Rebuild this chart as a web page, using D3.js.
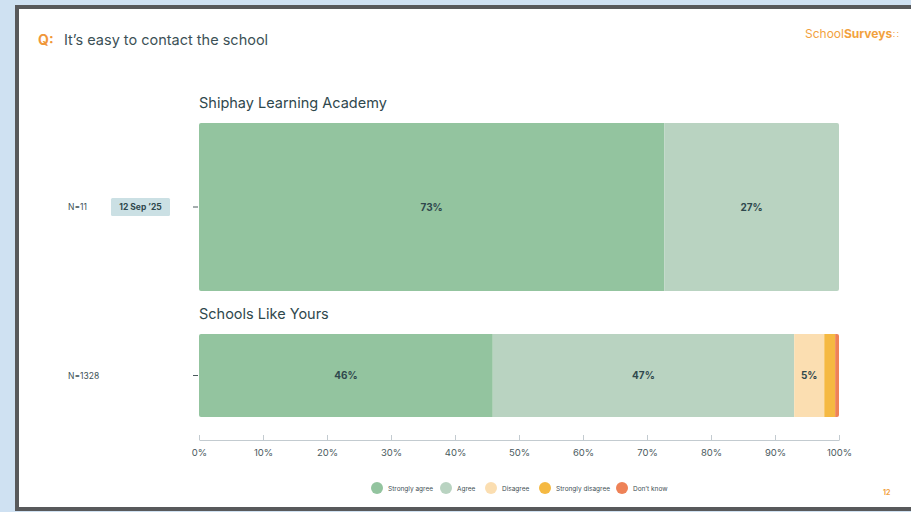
<!DOCTYPE html>
<html>
<head>
<meta charset="utf-8">
<script src="https://cdn.jsdelivr.net/npm/d3@7"></script>
<style>
  html, body { margin: 0; padding: 0; background: #cfe1f2; overflow: hidden; }
  #chart { width: 911px; height: 512px; }
  text { font-family: Inter, "Noto Sans", sans-serif; }
</style>
</head>
<body>
<div id="chart"></div>
<script>
'use strict';

// DATA
var question = 'It\u2019s easy to contact the school';
var categories = ['Strongly agree', 'Agree', 'Disagree', 'Strongly disagree', 'Don\u2019t know'];
var colors = ['#93c49f', '#b9d3c1', '#fbdeb1', '#f5b942', '#ee8257'];
var groups = ['Shiphay Learning Academy', 'Schools Like Yours'];
var counts = ['N=11', 'N=1328'];
var dates = ['12 Sep \u201925', null];
var shiphayValues = [72.7, 27.3, 0, 0, 0];
var schoolsLikeValues = [45.9, 47.1, 4.7, 1.7, 0.6];
var tickValues = [0, 10, 20, 30, 40, 50, 60, 70, 80, 90, 100];

var seriesValues = [shiphayValues, schoolsLikeValues];

var width = 911, height = 512;

var svg = d3.select('#chart').append('svg')
	.attr('width', width)
	.attr('height', height);

// FRAME
svg.append('rect')
	.attr('x', 17).attr('y', 7)
	.attr('width', 920).attr('height', 502)
	.attr('fill', '#fff')
	.attr('stroke', '#58595b')
	.attr('stroke-width', 4);

// HEADER
svg.append('text')
	.attr('x', 38).attr('y', 45)
	.attr('fill', '#f0973a')
	.style('font-size', '14px')
	.style('font-weight', 700)
	.text('Q:');

svg.append('text')
	.attr('x', 64).attr('y', 45)
	.attr('fill', '#3c5156')
	.style('font-size', '14.5px')
	.text(question);

var logo = svg.append('text')
	.attr('x', 805).attr('y', 38)
	.attr('fill', '#f2a23e')
	.style('font-size', '12px');
logo.append('tspan').text('School');
logo.append('tspan').style('font-weight', 700).text('Surveys');
logo.append('tspan').attr('dx', 1).style('font-size', '9px').text('\u2237');

svg.append('text')
	.attr('x', 883).attr('y', 495)
	.attr('fill', '#f2a23e')
	.style('font-size', '7px')
	.style('font-weight', 700)
	.text('12');

// SCALES
var x = d3.scaleLinear().domain([0, 100]).range([199, 839]);

// row layout (top, height) for each group
var rows = [{top: 123, h: 168}, {top: 334, h: 83}];

var stack = d3.stack().keys(d3.range(categories.length));
var stacked = stack(seriesValues);

groups.forEach(function(name, gi){
	var row = rows[gi];
	var g = svg.append('g').attr('class', 'row');

	g.append('text')
		.attr('x', 199).attr('y', row.top - 15)
		.attr('fill', '#2f484d')
		.style('font-size', '14.5px')
		.text(name);

	var clipId = 'clip' + gi;
	svg.append('clipPath').attr('id', clipId)
		.append('rect')
		.attr('x', x(0)).attr('y', row.top)
		.attr('width', x(100) - x(0)).attr('height', row.h)
		.attr('rx', 2);

	var segs = g.append('g').attr('clip-path', 'url(#' + clipId + ')');

	var segData = stacked.map(function(s, ci){ return {ci: ci, x0: s[gi][0], x1: s[gi][1]}; });

	segs.selectAll('rect')
		.data(segData)
		.enter().append('rect')
		.attr('x', function(d){ return x(d.x0); })
		.attr('y', row.top)
		.attr('width', function(d){ return Math.max(0, x(d.x1) - x(d.x0)); })
		.attr('height', row.h)
		.attr('fill', function(d){ return colors[d.ci]; });

	g.selectAll('text.val')
		.data(segData.filter(function(d){ return d.x1 - d.x0 >= 3; }))
		.enter().append('text')
		.attr('class', 'val')
		.attr('x', function(d){ return (x(d.x0) + x(d.x1)) / 2; })
		.attr('y', row.top + row.h / 2 + 3.5)
		.attr('text-anchor', 'middle')
		.attr('fill', '#2f484d')
		.style('font-size', '10px')
		.style('font-weight', 700)
		.text(function(d){ return Math.round(d.x1 - d.x0) + '%'; });

	// y tick
	g.append('line')
		.attr('x1', 193).attr('x2', 198)
		.attr('y1', row.top + row.h / 2).attr('y2', row.top + row.h / 2)
		.attr('stroke', '#4a5a5e');

	g.append('text')
		.attr('x', 68).attr('y', row.top + row.h / 2 + 3)
		.attr('fill', '#3c5156')
		.style('font-size', '8.5px')
		.text(counts[gi]);

	if (dates[gi]) {
		g.append('rect')
			.attr('x', 111).attr('y', row.top + row.h / 2 - 9)
			.attr('width', 59).attr('height', 18)
			.attr('rx', 1.5)
			.attr('fill', '#cbe0e4');
		g.append('text')
			.attr('x', 140.5).attr('y', row.top + row.h / 2 + 3)
			.attr('text-anchor', 'middle')
			.attr('fill', '#2f484d')
			.style('font-size', '8.5px')
			.style('font-weight', 700)
			.text(dates[gi]);
	}
});

// X AXIS
var xAxis = d3.axisBottom(x)
	.tickValues(tickValues)
	.tickFormat(function(d){ return d + '%'; })
	.tickSizeInner(-5)
	.tickSizeOuter(0)
	.tickPadding(9);

var axisG = svg.append('g')
	.attr('class', 'axis x')
	.attr('transform', 'translate(0,440)')
	.call(xAxis);

axisG.select('.domain').attr('stroke', '#c3cbd0');
axisG.selectAll('.tick line').attr('stroke', '#c3cbd0');
axisG.selectAll('.tick text')
	.attr('fill', '#4a5a5e')
	.style('font-size', '9.5px')
	.style('font-family', 'Inter, "Noto Sans", sans-serif');

// LEGEND
var legendX = [377, 446, 491, 545, 622];
var legend = svg.append('g').attr('class', 'legend');
var items = legend.selectAll('g')
	.data(categories)
	.enter().append('g')
	.attr('transform', function(d, i){ return 'translate(' + legendX[i] + ',488)'; });

items.append('circle')
	.attr('r', 6)
	.attr('fill', function(d, i){ return colors[i]; });

items.append('text')
	.attr('x', 11).attr('y', 2.5)
	.attr('fill', '#3f5055')
	.style('font-size', '6.5px')
	.text(function(d){ return d; });
</script>
</body>
</html>
